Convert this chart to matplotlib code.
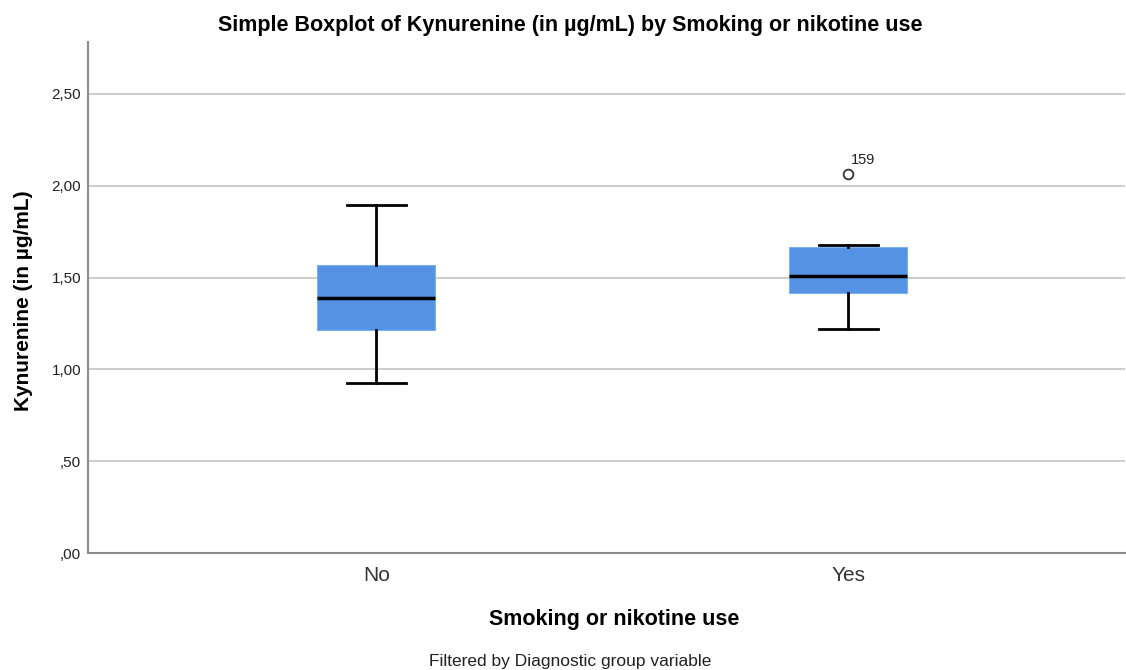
import matplotlib
matplotlib.use("Agg")
import matplotlib.pyplot as plt

plt.rcParams["font.family"] = ["Liberation Sans", "DejaVu Sans"]

groups = ["No", "Yes"]
whisker_low = [0.925, 1.22]
q1 = [1.215, 1.415]
median = [1.39, 1.51]
q3 = [1.57, 1.665]
whisker_high = [1.895, 1.675]
outliers = [[], [2.065]]
outlier_ids = [[], ["159"]]

yticks = [0.0, 0.5, 1.0, 1.5, 2.0, 2.5]
ytick_labels = [",00", ",50", "1,00", "1,50", "2,00", "2,50"]

stats = []
for i, g in enumerate(groups):
    stats.append(dict(label=g, whislo=whisker_low[i], q1=q1[i], med=median[i],
                      q3=q3[i], whishi=whisker_high[i], fliers=outliers[i]))

fig = plt.figure(figsize=(11.26, 6.70), dpi=100)
ax = fig.add_axes([0.0782, 0.1746, 0.921, 0.762])

ax.bxp(stats, positions=[0, 1], widths=0.25, patch_artist=True,
       boxprops=dict(facecolor="#5592e3", edgecolor="#7fb0ee", linewidth=0.8),
       medianprops=dict(color="black", linewidth=2.5),
       whiskerprops=dict(color="black", linewidth=2),
       capprops=dict(color="black", linewidth=2),
       capwidths=0.125,
       flierprops=dict(marker="o", markerfacecolor="white", markeredgecolor="#333333",
                       markersize=7, markeredgewidth=1.3),
       zorder=3)

for i, ids in enumerate(outlier_ids):
    for v, name in zip(outliers[i], ids):
        ax.annotate(name, (i, v), xytext=(2, 7), textcoords="offset points",
                    fontsize=10.5, color="#222222")

ax.set_xlim(-0.611, 1.587)
ax.set_ylim(0, 2.78)
ax.set_yticks(yticks)
ax.set_yticklabels(ytick_labels, fontsize=11, color="#222222")
ax.set_xticks([0, 1])
ax.set_xticklabels(groups, fontsize=15, color="#333333")
ax.tick_params(axis="x", length=0, pad=9)
ax.tick_params(axis="y", length=0, pad=5)
ax.yaxis.grid(True, color="#c4c4c4", linewidth=1.2)
ax.set_axisbelow(True)

for s in ["top", "right"]:
    ax.spines[s].set_visible(False)
for s in ["left", "bottom"]:
    ax.spines[s].set_color("#8c8c8c")
    ax.spines[s].set_linewidth(1.5)

ax.set_ylabel("Kynurenine (in µg/mL)", fontsize=15, fontweight="bold", va="center")
ax.yaxis.set_label_coords(-0.062, 0.495)
ax.set_xlabel("Smoking or nikotine use", fontsize=15.5, fontweight="bold", va="center")
ax.xaxis.set_label_coords(0.507, -0.131)
fig.text(0.506, 0.962, "Simple Boxplot of Kynurenine (in µg/mL) by Smoking or nikotine use",
         ha="center", va="center", fontsize=15.5, fontweight="bold")
fig.text(0.506, 0.0134, "Filtered by Diagnostic group variable", ha="center", va="center",
         fontsize=12.5, color="#222222")

fig.savefig("out.png", dpi=100)
